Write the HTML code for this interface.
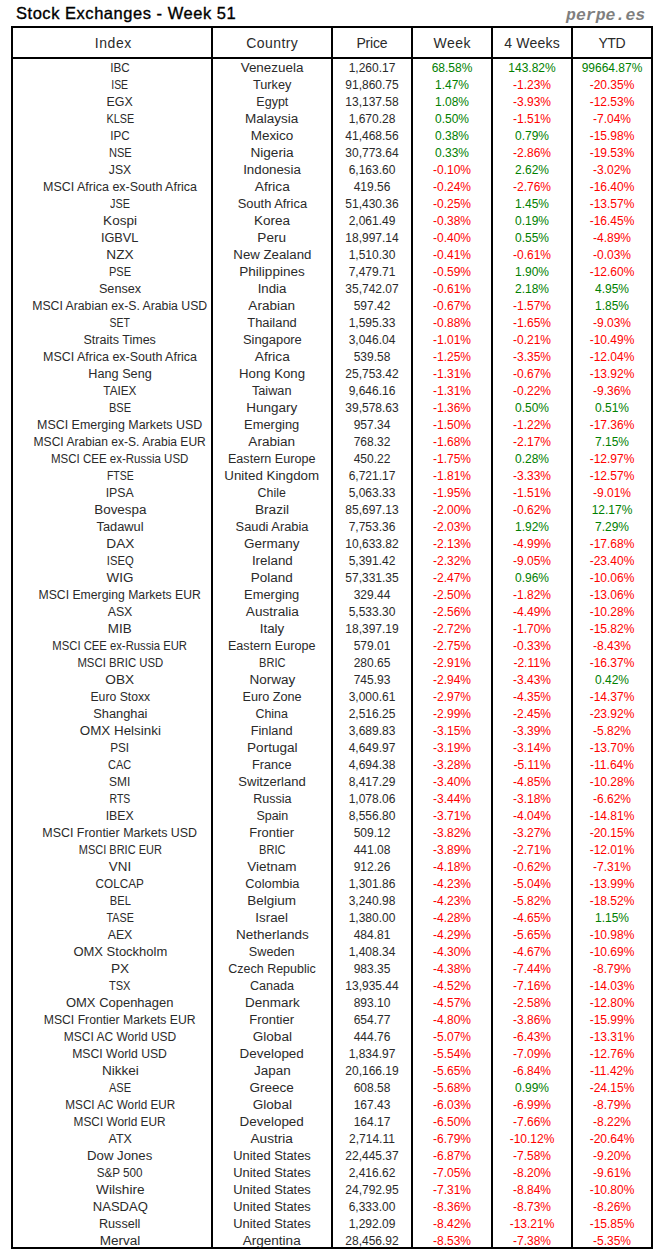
<!DOCTYPE html><html><head><meta charset="utf-8"><title>Stock Exchanges - Week 51</title><style>
html,body{margin:0;padding:0;background:#fff;}
body{width:664px;height:1260px;position:relative;overflow:hidden;font-family:"Liberation Sans",sans-serif;color:#000;}
.t{position:absolute;left:16px;top:3px;font-size:16.5px;font-weight:normal;-webkit-text-stroke:0.35px #000;line-height:20px;white-space:nowrap;letter-spacing:0.53px;}
.w{position:absolute;left:566px;top:6px;font-family:"Liberation Mono",monospace;font-size:16.5px;font-weight:bold;font-style:italic;color:#7f7f7f;line-height:20px;white-space:nowrap;letter-spacing:0px;}
.b{position:absolute;background:#000;}
.h{position:absolute;top:29px;height:29px;line-height:29px;text-align:center;font-size:14px;white-space:nowrap;letter-spacing:0px;}
.r{position:absolute;left:0;width:664px;height:17px;}
.r div{position:absolute;top:0;height:17px;line-height:17px;text-align:center;white-space:nowrap;font-size:12px;letter-spacing:0px;}
.c0{left:21px;width:198px;}
.c1{left:213px;width:118px;}
.c2{left:333px;width:78px;}
.c3{left:413px;width:78px;}
.c4{left:493px;width:78px;}
.c5{left:573px;width:78px;}
.r span{display:inline-block;transform-origin:center;}.r div{color:#2a2a2a;}.r div.g{color:#008000;}.r div.n{color:#ff0000;}.h{color:#2a2a2a;}
</style></head><body>
<div class="t">Stock Exchanges - Week 51</div>
<div class="w">perpe.es</div>
<div class="b" style="left:11px;top:26px;width:642px;height:2px"></div>
<div class="b" style="left:11px;top:57px;width:642px;height:2px"></div>
<div class="b" style="left:11px;top:1247px;width:642px;height:2px"></div>
<div class="b" style="left:11px;top:26px;width:2px;height:1223px"></div>
<div class="b" style="left:211px;top:26px;width:2px;height:1223px"></div>
<div class="b" style="left:331px;top:26px;width:2px;height:1223px"></div>
<div class="b" style="left:411px;top:26px;width:2px;height:1223px"></div>
<div class="b" style="left:491px;top:26px;width:2px;height:1223px"></div>
<div class="b" style="left:571px;top:26px;width:2px;height:1223px"></div>
<div class="b" style="left:651px;top:26px;width:2px;height:1223px"></div>
<div class="h" style="left:14px;width:198px;letter-spacing:0.60px;text-indent:0.60px">Index</div>
<div class="h" style="left:213px;width:118px;letter-spacing:0.45px;text-indent:0.45px">Country</div>
<div class="h" style="left:333px;width:78px;letter-spacing:-0.18px;text-indent:-0.18px">Price</div>
<div class="h" style="left:413px;width:78px;letter-spacing:0.45px;text-indent:0.45px">Week</div>
<div class="h" style="left:493px;width:78px;letter-spacing:0.20px;text-indent:0.20px">4 Weeks</div>
<div class="h" style="left:573px;width:78px;letter-spacing:-0.50px;text-indent:-0.50px">YTD</div>
<div class="r" style="top:60px"><div class="c0"><span style="transform:scaleX(0.973)">IBC</span></div><div class="c1"><span style="transform:scaleX(1.119)">Venezuela</span></div><div class="c2">1,260.17</div><div class="c3 g">68.58%</div><div class="c4 g">143.82%</div><div class="c5 g">99664.87%</div></div>
<div class="r" style="top:77px"><div class="c0"><span style="transform:scaleX(0.870)">ISE</span></div><div class="c1"><span style="transform:scaleX(1.060)">Turkey</span></div><div class="c2">91,860.75</div><div class="c3 g">1.47%</div><div class="c4 n">-1.23%</div><div class="c5 n">-20.35%</div></div>
<div class="r" style="top:94px"><div class="c0"><span style="transform:scaleX(1.034)">EGX</span></div><div class="c1"><span style="transform:scaleX(1.041)">Egypt</span></div><div class="c2">13,137.58</div><div class="c3 g">1.08%</div><div class="c4 n">-3.93%</div><div class="c5 n">-12.53%</div></div>
<div class="r" style="top:111px"><div class="c0"><span style="transform:scaleX(0.896)">KLSE</span></div><div class="c1"><span style="transform:scaleX(1.125)">Malaysia</span></div><div class="c2">1,670.28</div><div class="c3 g">0.50%</div><div class="c4 n">-1.51%</div><div class="c5 n">-7.04%</div></div>
<div class="r" style="top:128px"><div class="c0"><span style="transform:scaleX(0.973)">IPC</span></div><div class="c1"><span style="transform:scaleX(1.124)">Mexico</span></div><div class="c2">41,468.56</div><div class="c3 g">0.38%</div><div class="c4 g">0.79%</div><div class="c5 n">-15.98%</div></div>
<div class="r" style="top:145px"><div class="c0"><span style="transform:scaleX(0.925)">NSE</span></div><div class="c1"><span style="transform:scaleX(1.134)">Nigeria</span></div><div class="c2">30,773.64</div><div class="c3 g">0.33%</div><div class="c4 n">-2.86%</div><div class="c5 n">-19.53%</div></div>
<div class="r" style="top:162px"><div class="c0"><span style="transform:scaleX(1.018)">JSX</span></div><div class="c1"><span style="transform:scaleX(1.109)">Indonesia</span></div><div class="c2">6,163.60</div><div class="c3 n">-0.10%</div><div class="c4 g">2.62%</div><div class="c5 n">-3.02%</div></div>
<div class="r" style="top:179px"><div class="c0"><span style="transform:scaleX(1.040)">MSCI Africa ex-South Africa</span></div><div class="c1"><span style="transform:scaleX(1.140)">Africa</span></div><div class="c2">419.56</div><div class="c3 n">-0.24%</div><div class="c4 n">-2.76%</div><div class="c5 n">-16.40%</div></div>
<div class="r" style="top:196px"><div class="c0"><span style="transform:scaleX(0.900)">JSE</span></div><div class="c1"><span style="transform:scaleX(1.073)">South Africa</span></div><div class="c2">51,430.36</div><div class="c3 n">-0.25%</div><div class="c4 g">1.45%</div><div class="c5 n">-13.57%</div></div>
<div class="r" style="top:213px"><div class="c0"><span style="transform:scaleX(1.125)">Kospi</span></div><div class="c1"><span style="transform:scaleX(1.127)">Korea</span></div><div class="c2">2,061.49</div><div class="c3 n">-0.38%</div><div class="c4 g">0.19%</div><div class="c5 n">-16.45%</div></div>
<div class="r" style="top:230px"><div class="c0"><span style="transform:scaleX(1.063)">IGBVL</span></div><div class="c1"><span style="transform:scaleX(1.131)">Peru</span></div><div class="c2">18,997.14</div><div class="c3 n">-0.40%</div><div class="c4 g">0.55%</div><div class="c5 n">-4.89%</div></div>
<div class="r" style="top:247px"><div class="c0"><span style="transform:scaleX(1.137)">NZX</span></div><div class="c1"><span style="transform:scaleX(1.104)">New Zealand</span></div><div class="c2">1,510.30</div><div class="c3 n">-0.41%</div><div class="c4 n">-0.61%</div><div class="c5 n">-0.03%</div></div>
<div class="r" style="top:264px"><div class="c0"><span style="transform:scaleX(0.920)">PSE</span></div><div class="c1"><span style="transform:scaleX(1.128)">Philippines</span></div><div class="c2">7,479.71</div><div class="c3 n">-0.59%</div><div class="c4 g">1.90%</div><div class="c5 n">-12.60%</div></div>
<div class="r" style="top:281px"><div class="c0"><span style="transform:scaleX(1.053)">Sensex</span></div><div class="c1"><span style="transform:scaleX(1.105)">India</span></div><div class="c2">35,742.07</div><div class="c3 n">-0.61%</div><div class="c4 g">2.18%</div><div class="c5 g">4.95%</div></div>
<div class="r" style="top:298px"><div class="c0"><span style="transform:scaleX(1.021)">MSCI Arabian ex-S. Arabia USD</span></div><div class="c1"><span style="transform:scaleX(1.128)">Arabian</span></div><div class="c2">597.42</div><div class="c3 n">-0.67%</div><div class="c4 n">-1.57%</div><div class="c5 g">1.85%</div></div>
<div class="r" style="top:315px"><div class="c0"><span style="transform:scaleX(0.870)">SET</span></div><div class="c1"><span style="transform:scaleX(1.072)">Thailand</span></div><div class="c2">1,595.33</div><div class="c3 n">-0.88%</div><div class="c4 n">-1.65%</div><div class="c5 n">-9.03%</div></div>
<div class="r" style="top:332px"><div class="c0"><span style="transform:scaleX(1.044)">Straits Times</span></div><div class="c1"><span style="transform:scaleX(1.076)">Singapore</span></div><div class="c2">3,046.04</div><div class="c3 n">-1.01%</div><div class="c4 n">-0.21%</div><div class="c5 n">-10.49%</div></div>
<div class="r" style="top:349px"><div class="c0"><span style="transform:scaleX(1.040)">MSCI Africa ex-South Africa</span></div><div class="c1"><span style="transform:scaleX(1.140)">Africa</span></div><div class="c2">539.58</div><div class="c3 n">-1.25%</div><div class="c4 n">-3.35%</div><div class="c5 n">-12.04%</div></div>
<div class="r" style="top:366px"><div class="c0"><span style="transform:scaleX(1.056)">Hang Seng</span></div><div class="c1"><span style="transform:scaleX(1.099)">Hong Kong</span></div><div class="c2">25,753.42</div><div class="c3 n">-1.31%</div><div class="c4 n">-0.67%</div><div class="c5 n">-13.92%</div></div>
<div class="r" style="top:383px"><div class="c0"><span style="transform:scaleX(0.980)">TAIEX</span></div><div class="c1"><span style="transform:scaleX(1.060)">Taiwan</span></div><div class="c2">9,646.16</div><div class="c3 n">-1.31%</div><div class="c4 n">-0.22%</div><div class="c5 n">-9.36%</div></div>
<div class="r" style="top:400px"><div class="c0"><span style="transform:scaleX(0.920)">BSE</span></div><div class="c1"><span style="transform:scaleX(1.123)">Hungary</span></div><div class="c2">39,578.63</div><div class="c3 n">-1.36%</div><div class="c4 g">0.50%</div><div class="c5 g">0.51%</div></div>
<div class="r" style="top:417px"><div class="c0"><span style="transform:scaleX(1.037)">MSCI Emerging Markets USD</span></div><div class="c1"><span style="transform:scaleX(1.074)">Emerging</span></div><div class="c2">957.34</div><div class="c3 n">-1.50%</div><div class="c4 n">-1.22%</div><div class="c5 n">-17.36%</div></div>
<div class="r" style="top:434px"><div class="c0"><span style="transform:scaleX(1.005)">MSCI Arabian ex-S. Arabia EUR</span></div><div class="c1"><span style="transform:scaleX(1.128)">Arabian</span></div><div class="c2">768.32</div><div class="c3 n">-1.68%</div><div class="c4 n">-2.17%</div><div class="c5 g">7.15%</div></div>
<div class="r" style="top:451px"><div class="c0"><span style="transform:scaleX(0.958)">MSCI CEE ex-Russia USD</span></div><div class="c1"><span style="transform:scaleX(1.049)">Eastern Europe</span></div><div class="c2">450.22</div><div class="c3 n">-1.75%</div><div class="c4 g">0.28%</div><div class="c5 n">-12.97%</div></div>
<div class="r" style="top:468px"><div class="c0"><span style="transform:scaleX(0.870)">FTSE</span></div><div class="c1"><span style="transform:scaleX(1.110)">United Kingdom</span></div><div class="c2">6,721.17</div><div class="c3 n">-1.81%</div><div class="c4 n">-3.33%</div><div class="c5 n">-12.57%</div></div>
<div class="r" style="top:485px"><div class="c0"><span style="transform:scaleX(1.025)">IPSA</span></div><div class="c1"><span style="transform:scaleX(1.030)">Chile</span></div><div class="c2">5,063.33</div><div class="c3 n">-1.95%</div><div class="c4 n">-1.51%</div><div class="c5 n">-9.01%</div></div>
<div class="r" style="top:502px"><div class="c0"><span style="transform:scaleX(1.117)">Bovespa</span></div><div class="c1"><span style="transform:scaleX(1.139)">Brazil</span></div><div class="c2">85,697.13</div><div class="c3 n">-2.00%</div><div class="c4 n">-0.62%</div><div class="c5 g">12.17%</div></div>
<div class="r" style="top:519px"><div class="c0"><span style="transform:scaleX(1.068)">Tadawul</span></div><div class="c1"><span style="transform:scaleX(1.071)">Saudi Arabia</span></div><div class="c2">7,753.36</div><div class="c3 n">-2.03%</div><div class="c4 g">1.92%</div><div class="c5 g">7.29%</div></div>
<div class="r" style="top:536px"><div class="c0"><span style="transform:scaleX(1.137)">DAX</span></div><div class="c1"><span style="transform:scaleX(1.123)">Germany</span></div><div class="c2">10,633.82</div><div class="c3 n">-2.13%</div><div class="c4 n">-4.99%</div><div class="c5 n">-17.68%</div></div>
<div class="r" style="top:553px"><div class="c0"><span style="transform:scaleX(0.939)">ISEQ</span></div><div class="c1"><span style="transform:scaleX(1.114)">Ireland</span></div><div class="c2">5,391.42</div><div class="c3 n">-2.32%</div><div class="c4 n">-9.05%</div><div class="c5 n">-23.40%</div></div>
<div class="r" style="top:570px"><div class="c0"><span style="transform:scaleX(1.118)">WIG</span></div><div class="c1"><span style="transform:scaleX(1.123)">Poland</span></div><div class="c2">57,331.35</div><div class="c3 n">-2.47%</div><div class="c4 g">0.96%</div><div class="c5 n">-10.06%</div></div>
<div class="r" style="top:587px"><div class="c0"><span style="transform:scaleX(1.019)">MSCI Emerging Markets EUR</span></div><div class="c1"><span style="transform:scaleX(1.074)">Emerging</span></div><div class="c2">329.44</div><div class="c3 n">-2.50%</div><div class="c4 n">-1.82%</div><div class="c5 n">-13.06%</div></div>
<div class="r" style="top:604px"><div class="c0"><span style="transform:scaleX(1.028)">ASX</span></div><div class="c1"><span style="transform:scaleX(1.134)">Australia</span></div><div class="c2">5,533.30</div><div class="c3 n">-2.56%</div><div class="c4 n">-4.49%</div><div class="c5 n">-10.28%</div></div>
<div class="r" style="top:621px"><div class="c0"><span style="transform:scaleX(1.116)">MIB</span></div><div class="c1"><span style="transform:scaleX(1.113)">Italy</span></div><div class="c2">18,397.19</div><div class="c3 n">-2.72%</div><div class="c4 n">-1.70%</div><div class="c5 n">-15.82%</div></div>
<div class="r" style="top:638px"><div class="c0"><span style="transform:scaleX(0.939)">MSCI CEE ex-Russia EUR</span></div><div class="c1"><span style="transform:scaleX(1.049)">Eastern Europe</span></div><div class="c2">579.01</div><div class="c3 n">-2.75%</div><div class="c4 n">-0.33%</div><div class="c5 n">-8.43%</div></div>
<div class="r" style="top:655px"><div class="c0"><span style="transform:scaleX(0.947)">MSCI BRIC USD</span></div><div class="c1"><span style="transform:scaleX(0.924)">BRIC</span></div><div class="c2">280.65</div><div class="c3 n">-2.91%</div><div class="c4 n">-2.11%</div><div class="c5 n">-16.37%</div></div>
<div class="r" style="top:672px"><div class="c0"><span style="transform:scaleX(1.137)">OBX</span></div><div class="c1"><span style="transform:scaleX(1.124)">Norway</span></div><div class="c2">745.93</div><div class="c3 n">-2.94%</div><div class="c4 n">-3.43%</div><div class="c5 g">0.42%</div></div>
<div class="r" style="top:689px"><div class="c0"><span style="transform:scaleX(1.018)">Euro Stoxx</span></div><div class="c1"><span style="transform:scaleX(1.056)">Euro Zone</span></div><div class="c2">3,000.61</div><div class="c3 n">-2.97%</div><div class="c4 n">-4.35%</div><div class="c5 n">-14.37%</div></div>
<div class="r" style="top:706px"><div class="c0"><span style="transform:scaleX(1.069)">Shanghai</span></div><div class="c1"><span style="transform:scaleX(1.035)">China</span></div><div class="c2">2,516.25</div><div class="c3 n">-2.99%</div><div class="c4 n">-2.45%</div><div class="c5 n">-23.92%</div></div>
<div class="r" style="top:723px"><div class="c0"><span style="transform:scaleX(1.115)">OMX Helsinki</span></div><div class="c1"><span style="transform:scaleX(1.065)">Finland</span></div><div class="c2">3,689.83</div><div class="c3 n">-3.15%</div><div class="c4 n">-3.39%</div><div class="c5 n">-5.82%</div></div>
<div class="r" style="top:740px"><div class="c0"><span style="transform:scaleX(0.978)">PSI</span></div><div class="c1"><span style="transform:scaleX(1.131)">Portugal</span></div><div class="c2">4,649.97</div><div class="c3 n">-3.19%</div><div class="c4 n">-3.14%</div><div class="c5 n">-13.70%</div></div>
<div class="r" style="top:757px"><div class="c0"><span style="transform:scaleX(0.914)">CAC</span></div><div class="c1"><span style="transform:scaleX(1.060)">France</span></div><div class="c2">4,694.38</div><div class="c3 n">-3.28%</div><div class="c4 n">-5.11%</div><div class="c5 n">-11.64%</div></div>
<div class="r" style="top:774px"><div class="c0"><span style="transform:scaleX(0.993)">SMI</span></div><div class="c1"><span style="transform:scaleX(1.087)">Switzerland</span></div><div class="c2">8,417.29</div><div class="c3 n">-3.40%</div><div class="c4 n">-4.85%</div><div class="c5 n">-10.28%</div></div>
<div class="r" style="top:791px"><div class="c0"><span style="transform:scaleX(0.870)">RTS</span></div><div class="c1"><span style="transform:scaleX(1.046)">Russia</span></div><div class="c2">1,078.06</div><div class="c3 n">-3.44%</div><div class="c4 n">-3.18%</div><div class="c5 n">-6.62%</div></div>
<div class="r" style="top:808px"><div class="c0"><span style="transform:scaleX(1.025)">IBEX</span></div><div class="c1"><span style="transform:scaleX(1.040)">Spain</span></div><div class="c2">8,556.80</div><div class="c3 n">-3.71%</div><div class="c4 n">-4.04%</div><div class="c5 n">-14.81%</div></div>
<div class="r" style="top:825px"><div class="c0"><span style="transform:scaleX(1.036)">MSCI Frontier Markets USD</span></div><div class="c1"><span style="transform:scaleX(1.081)">Frontier</span></div><div class="c2">509.12</div><div class="c3 n">-3.82%</div><div class="c4 n">-3.27%</div><div class="c5 n">-20.15%</div></div>
<div class="r" style="top:842px"><div class="c0"><span style="transform:scaleX(0.916)">MSCI BRIC EUR</span></div><div class="c1"><span style="transform:scaleX(0.924)">BRIC</span></div><div class="c2">441.08</div><div class="c3 n">-3.89%</div><div class="c4 n">-2.71%</div><div class="c5 n">-12.01%</div></div>
<div class="r" style="top:859px"><div class="c0"><span style="transform:scaleX(1.114)">VNI</span></div><div class="c1"><span style="transform:scaleX(1.126)">Vietnam</span></div><div class="c2">912.26</div><div class="c3 n">-4.18%</div><div class="c4 n">-0.62%</div><div class="c5 n">-7.31%</div></div>
<div class="r" style="top:876px"><div class="c0"><span style="transform:scaleX(0.978)">COLCAP</span></div><div class="c1"><span style="transform:scaleX(1.068)">Colombia</span></div><div class="c2">1,301.86</div><div class="c3 n">-4.23%</div><div class="c4 n">-5.04%</div><div class="c5 n">-13.99%</div></div>
<div class="r" style="top:893px"><div class="c0"><span style="transform:scaleX(0.926)">BEL</span></div><div class="c1"><span style="transform:scaleX(1.125)">Belgium</span></div><div class="c2">3,240.98</div><div class="c3 n">-4.23%</div><div class="c4 n">-5.82%</div><div class="c5 n">-18.52%</div></div>
<div class="r" style="top:910px"><div class="c0"><span style="transform:scaleX(0.894)">TASE</span></div><div class="c1"><span style="transform:scaleX(1.114)">Israel</span></div><div class="c2">1,380.00</div><div class="c3 n">-4.28%</div><div class="c4 n">-4.65%</div><div class="c5 g">1.15%</div></div>
<div class="r" style="top:927px"><div class="c0"><span style="transform:scaleX(1.028)">AEX</span></div><div class="c1"><span style="transform:scaleX(1.126)">Netherlands</span></div><div class="c2">484.81</div><div class="c3 n">-4.29%</div><div class="c4 n">-5.65%</div><div class="c5 n">-10.98%</div></div>
<div class="r" style="top:944px"><div class="c0"><span style="transform:scaleX(1.083)">OMX Stockholm</span></div><div class="c1"><span style="transform:scaleX(1.057)">Sweden</span></div><div class="c2">1,408.34</div><div class="c3 n">-4.30%</div><div class="c4 n">-4.67%</div><div class="c5 n">-10.69%</div></div>
<div class="r" style="top:961px"><div class="c0"><span style="transform:scaleX(1.137)">PX</span></div><div class="c1"><span style="transform:scaleX(1.040)">Czech Republic</span></div><div class="c2">983.35</div><div class="c3 n">-4.38%</div><div class="c4 n">-7.44%</div><div class="c5 n">-8.79%</div></div>
<div class="r" style="top:978px"><div class="c0"><span style="transform:scaleX(0.923)">TSX</span></div><div class="c1"><span style="transform:scaleX(1.051)">Canada</span></div><div class="c2">13,935.44</div><div class="c3 n">-4.52%</div><div class="c4 n">-7.16%</div><div class="c5 n">-14.03%</div></div>
<div class="r" style="top:995px"><div class="c0"><span style="transform:scaleX(1.081)">OMX Copenhagen</span></div><div class="c1"><span style="transform:scaleX(1.122)">Denmark</span></div><div class="c2">893.10</div><div class="c3 n">-4.57%</div><div class="c4 n">-2.58%</div><div class="c5 n">-12.80%</div></div>
<div class="r" style="top:1012px"><div class="c0"><span style="transform:scaleX(1.017)">MSCI Frontier Markets EUR</span></div><div class="c1"><span style="transform:scaleX(1.081)">Frontier</span></div><div class="c2">654.77</div><div class="c3 n">-4.80%</div><div class="c4 n">-3.86%</div><div class="c5 n">-15.99%</div></div>
<div class="r" style="top:1029px"><div class="c0">MSCI AC World USD</div><div class="c1"><span style="transform:scaleX(1.129)">Global</span></div><div class="c2">444.76</div><div class="c3 n">-5.07%</div><div class="c4 n">-6.43%</div><div class="c5 n">-13.31%</div></div>
<div class="r" style="top:1046px"><div class="c0"><span style="transform:scaleX(1.017)">MSCI World USD</span></div><div class="c1"><span style="transform:scaleX(1.120)">Developed</span></div><div class="c2">1,834.97</div><div class="c3 n">-5.54%</div><div class="c4 n">-7.09%</div><div class="c5 n">-12.76%</div></div>
<div class="r" style="top:1063px"><div class="c0"><span style="transform:scaleX(1.130)">Nikkei</span></div><div class="c1"><span style="transform:scaleX(1.117)">Japan</span></div><div class="c2">20,166.19</div><div class="c3 n">-5.65%</div><div class="c4 n">-6.84%</div><div class="c5 n">-11.42%</div></div>
<div class="r" style="top:1080px"><div class="c0"><span style="transform:scaleX(0.920)">ASE</span></div><div class="c1"><span style="transform:scaleX(1.125)">Greece</span></div><div class="c2">608.58</div><div class="c3 n">-5.68%</div><div class="c4 g">0.99%</div><div class="c5 n">-24.15%</div></div>
<div class="r" style="top:1097px"><div class="c0"><span style="transform:scaleX(0.977)">MSCI AC World EUR</span></div><div class="c1"><span style="transform:scaleX(1.129)">Global</span></div><div class="c2">167.43</div><div class="c3 n">-6.03%</div><div class="c4 n">-6.99%</div><div class="c5 n">-8.79%</div></div>
<div class="r" style="top:1114px"><div class="c0"><span style="transform:scaleX(0.987)">MSCI World EUR</span></div><div class="c1"><span style="transform:scaleX(1.120)">Developed</span></div><div class="c2">164.17</div><div class="c3 n">-6.50%</div><div class="c4 n">-7.66%</div><div class="c5 n">-8.22%</div></div>
<div class="r" style="top:1131px"><div class="c0"><span style="transform:scaleX(1.035)">ATX</span></div><div class="c1"><span style="transform:scaleX(1.135)">Austria</span></div><div class="c2">2,714.11</div><div class="c3 n">-6.79%</div><div class="c4 n">-10.12%</div><div class="c5 n">-20.64%</div></div>
<div class="r" style="top:1148px"><div class="c0"><span style="transform:scaleX(1.098)">Dow Jones</span></div><div class="c1"><span style="transform:scaleX(1.077)">United States</span></div><div class="c2">22,445.37</div><div class="c3 n">-6.87%</div><div class="c4 n">-7.58%</div><div class="c5 n">-9.20%</div></div>
<div class="r" style="top:1165px"><div class="c0"><span style="transform:scaleX(0.973)">S&amp;P 500</span></div><div class="c1"><span style="transform:scaleX(1.077)">United States</span></div><div class="c2">2,416.62</div><div class="c3 n">-7.05%</div><div class="c4 n">-8.20%</div><div class="c5 n">-9.61%</div></div>
<div class="r" style="top:1182px"><div class="c0"><span style="transform:scaleX(1.137)">Wilshire</span></div><div class="c1"><span style="transform:scaleX(1.077)">United States</span></div><div class="c2">24,792.95</div><div class="c3 n">-7.31%</div><div class="c4 n">-8.84%</div><div class="c5 n">-10.80%</div></div>
<div class="r" style="top:1199px"><div class="c0"><span style="transform:scaleX(1.086)">NASDAQ</span></div><div class="c1"><span style="transform:scaleX(1.077)">United States</span></div><div class="c2">6,333.00</div><div class="c3 n">-8.36%</div><div class="c4 n">-8.73%</div><div class="c5 n">-8.26%</div></div>
<div class="r" style="top:1216px"><div class="c0"><span style="transform:scaleX(1.055)">Russell</span></div><div class="c1"><span style="transform:scaleX(1.077)">United States</span></div><div class="c2">1,292.09</div><div class="c3 n">-8.42%</div><div class="c4 n">-13.21%</div><div class="c5 n">-15.85%</div></div>
<div class="r" style="top:1233px"><div class="c0"><span style="transform:scaleX(1.131)">Merval</span></div><div class="c1"><span style="transform:scaleX(1.129)">Argentina</span></div><div class="c2">28,456.92</div><div class="c3 n">-8.53%</div><div class="c4 n">-7.38%</div><div class="c5 n">-5.35%</div></div>
</body></html>
